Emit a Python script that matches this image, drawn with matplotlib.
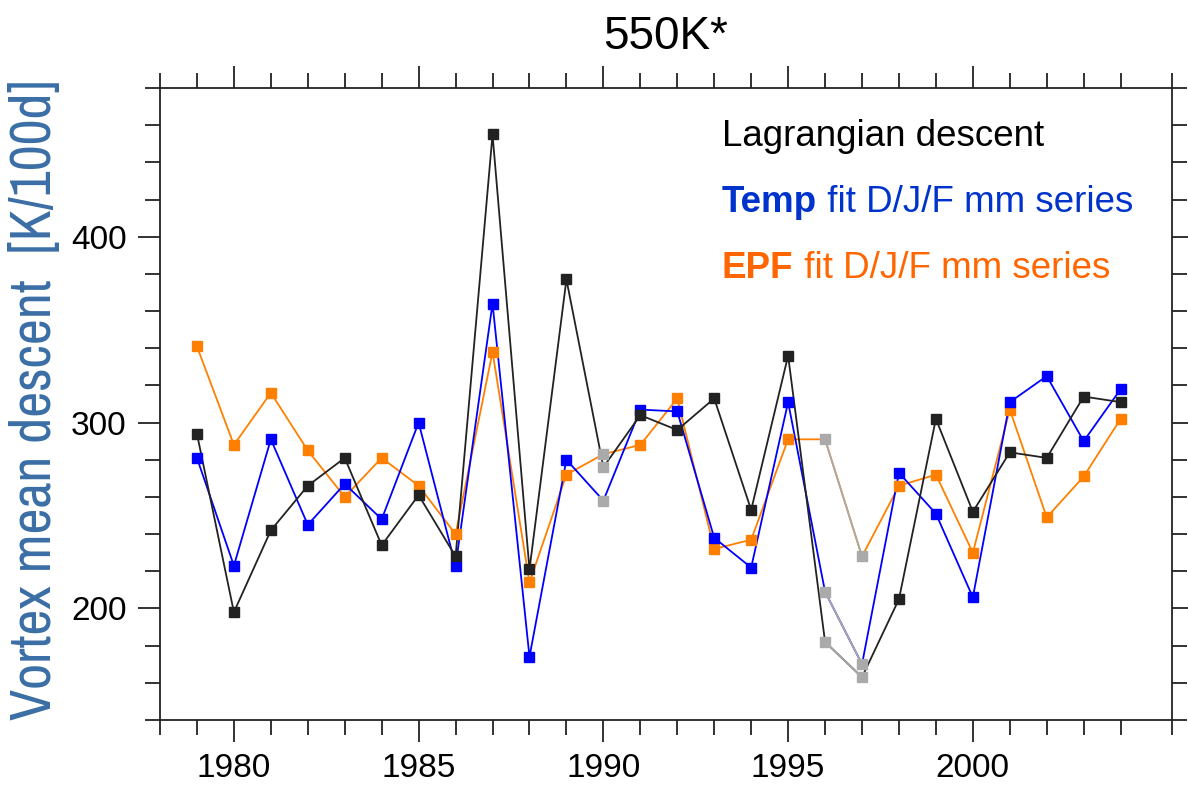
import numpy as np
import matplotlib.pyplot as plt
from matplotlib.ticker import MultipleLocator, FixedLocator
from matplotlib import font_manager

plt.rcParams['font.family'] = ['Liberation Sans', 'DejaVu Sans']

years = np.arange(1979, 2005)

lagr = [294, 198, 242, 266, 281, 234, 261, 228, 455, 221, 377, 276, 304, 296,
        313, 253, 336, 182, 163, 205, 302, 252, 284, 281, 314, 311]
temp = [281, 223, 291, 245, 267, 248, 300, 223, 364, 174, 280, 258, 307, 306,
        238, 222, 311, 209, 170, 273, 251, 206, 311, 325, 290, 318]
epf = [341, 288, 316, 285, 260, 281, 266, 240, 338, 214, 272, 283, 288, 313,
       232, 237, 291, 291, 228, 266, 272, 230, 307, 249, 271, 302]

# years drawn with grey markers, and the grey segment
grey_years = [1990, 1996, 1997]
grey_seg = [1996, 1997]

# condensed font for the y label, if there is one
names = sorted({f.name for f in font_manager.fontManager.ttflist})
narrow = [n for n in names if 'Narrow' in n or 'Condensed' in n]

fig = plt.figure(figsize=(11.88, 7.89), dpi=100)
ax = fig.add_axes([160/1188, 1-720/789, (1172-160)/1188, (720-88)/789])

grey = '#aaaaaa'
for vals, col in [(epf, '#ff8000'), (temp, '#0000ff'), (lagr, '#222222')]:
    vals = np.array(vals, dtype=float)
    ax.plot(years, vals, color=col, lw=1.3, zorder=2)
    seg = np.isin(years, grey_seg)
    ax.plot(years[seg], vals[seg], color=grey, lw=1.3, zorder=2.5)
    g = np.isin(years, grey_years)
    ax.plot(years[~g], vals[~g], ls='none', marker='s', ms=6.5, color=col, zorder=3)
    ax.plot(years[g], vals[g], ls='none', marker='s', ms=6.5, color=grey, zorder=3)

ax.set_xlim(1978, 2005.39)
ax.set_ylim(140, 480)
ax.xaxis.set_major_locator(FixedLocator([1980, 1985, 1990, 1995, 2000]))
ax.xaxis.set_minor_locator(FixedLocator(list(range(1978, 2005)) + [2005.39]))
ax.yaxis.set_major_locator(FixedLocator([200, 300, 400]))
ax.yaxis.set_minor_locator(MultipleLocator(20))
ax.tick_params(which='both', direction='out', top=True, right=True, width=1.3, color='#222222')
ax.tick_params(which='major', length=16, labelsize=24, pad=8)
ax.tick_params(which='minor', length=11)
ax.tick_params(axis='y', which='both', length=11)
ax.tick_params(axis='y', which='major', length=16)
for s in ax.spines.values():
    s.set_linewidth(1.3)
    s.set_color('#222222')

ax.set_title('550K*', fontsize=33, pad=28)
lab_font = narrow[0] if narrow else 'Liberation Sans'
fig.text(35/1188, 1-400/789, 'Vortex mean descent  [K/100d]', rotation=90,
         ha='center', va='center', fontsize=41 if narrow else 34, color='#3a6ea5',
         family=[lab_font, 'Liberation Sans'])

fs = 26.5
ax.text(722/1188, 1-146/789, 'Lagrangian descent', transform=fig.transFigure,
        fontsize=fs, color='black', va='baseline')
t1 = ax.text(722/1188, 1-212/789, 'Temp', transform=fig.transFigure,
             fontsize=fs, color='#0033cc', fontweight='bold', va='baseline')
ax.annotate(' fit D/J/F mm series', xy=(1, 0), xycoords=t1, va='bottom',
            fontsize=fs, color='#0033cc')
t2 = ax.text(722/1188, 1-278/789, 'EPF', transform=fig.transFigure,
             fontsize=fs, color='#ff6600', fontweight='bold', va='baseline')
ax.annotate(' fit D/J/F mm series', xy=(1, 0), xycoords=t2, va='bottom',
            fontsize=fs, color='#ff6600')

fig.savefig('out.png', dpi=100)
